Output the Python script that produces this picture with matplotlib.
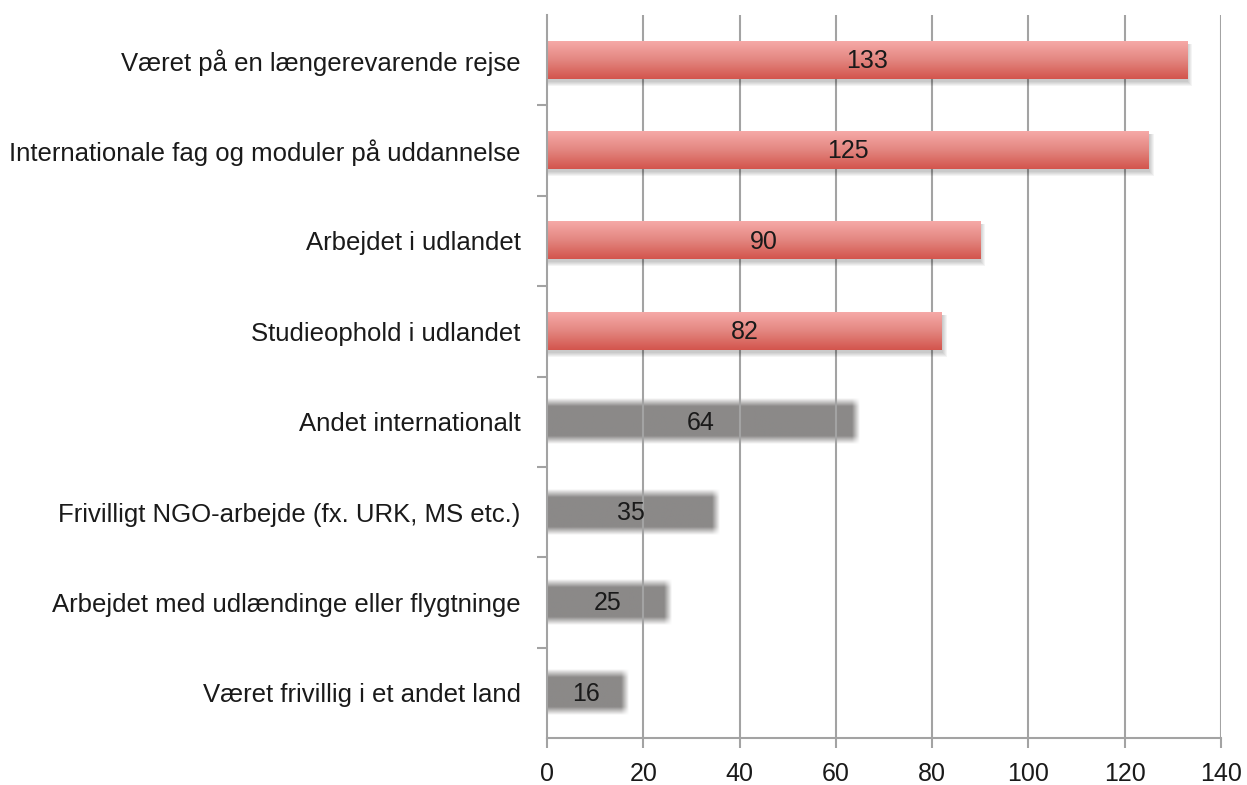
import matplotlib.pyplot as plt
import numpy as np
from matplotlib.colors import LinearSegmentedColormap, to_rgb

# data ---------------------------------------------------------------------------
categories = ['Været på en længerevarende rejse',
              'Internationale fag og moduler på uddannelse',
              'Arbejdet i udlandet',
              'Studieophold i udlandet',
              'Andet internationalt',
              'Frivilligt NGO-arbejde (fx. URK, MS etc.)',
              'Arbejdet med udlændinge eller flygtninge',
              'Været frivillig i et andet land']
values = [133, 125, 90, 82, 64, 35, 25, 16]
highlight = [True, True, True, True, False, False, False, False]
x_ticks = [0, 20, 40, 60, 80, 100, 120, 140]

# style --------------------------------------------------------------------------
plt.rcParams['font.family'] = ['Liberation Sans', 'DejaVu Sans']
grid_col = '#a3a3a3'
text_col = '#1a1a1a'
gray_col = '#8b8988'
bar_h = 0.41
red_map = LinearSegmentedColormap.from_list('red', ['#f6a9a7', '#e38680', '#d3554d'])

fig = plt.figure(figsize=(12.47, 7.85), dpi=100)
ax = fig.add_axes([547/1247, 1 - 738/785, (1221-547)/1247, (738-15)/785])
ax.set_xlim(0, 140)
ax.set_ylim(len(categories) - 0.5, -0.5)

px_x = 140 / 674   # one pixel in data units
px_y = 1 / 90.4

# grid lines
for t in x_ticks[1:]:
    ax.axvline(t, color=grid_col, lw=1.5, zorder=2)

grad = np.linspace(0, 1, 64).reshape(-1, 1)
blur = 4  # px of soft edge on gray bars
for i, (v, hl) in enumerate(zip(values, highlight)):
    y0, y1 = i - bar_h/2, i + bar_h/2
    if hl:
        # soft shadow
        for k in range(5):
            ax.add_patch(plt.Rectangle((0, y0 + 2*px_y), v + (1 + k)*px_x, bar_h + (1 + k)*px_y,
                                       color='#000000', alpha=0.045, lw=0, zorder=3))
        ax.imshow(grad, cmap=red_map, aspect='auto', extent=(0, v, y1, y0),
                  zorder=4, interpolation='bilinear')
    else:
        # blurred gray bar as an image with soft edges
        w = int(round(v / px_x)) + 2*blur
        h = int(round(bar_h / px_y)) + 2*blur
        xs = np.arange(w) + 0.5
        ys = np.arange(h) + 0.5
        ax_ = np.clip((w - xs) / (2*blur), 0, 1)
        ay = np.clip(np.minimum(ys, h - ys) / (2*blur), 0, 1)
        alpha = np.outer(ay, ax_)
        img = np.zeros((h, w, 4))
        img[..., :3] = to_rgb(gray_col)
        img[..., 3] = alpha
        ax.imshow(img, aspect='auto', interpolation='bilinear', zorder=1,
                  extent=(0, v + blur*px_x, y1 + blur*px_y, y0 - blur*px_y))
    ax.text(v / 2, i + 0.01, str(v), ha='center', va='center',
            fontsize=18, color=text_col, zorder=6)

ax.set_xlim(0, 140)
ax.set_ylim(len(categories) - 0.5, -0.5)
ax.set_xticks(x_ticks)
ax.set_xticklabels([str(t) for t in x_ticks], fontsize=18, color=text_col)
ax.set_yticks(range(len(categories)))
ax.set_yticklabels(categories, fontsize=18.5, color=text_col)
ax.tick_params(axis='y', length=0, pad=19)
ax.set_yticks(np.arange(0.5, len(categories) - 0.5, 1), minor=True)
ax.tick_params(axis='y', which='minor', length=7, color=grid_col, width=1.5)
ax.tick_params(axis='x', length=7, color=grid_col, width=1.5, pad=10)

for s in ['top', 'right']:
    ax.spines[s].set_visible(False)
for s in ['left', 'bottom']:
    ax.spines[s].set_color(grid_col)
    ax.spines[s].set_linewidth(1.5)
    ax.spines[s].set_zorder(7)

fig.savefig('out.png', dpi=100)
